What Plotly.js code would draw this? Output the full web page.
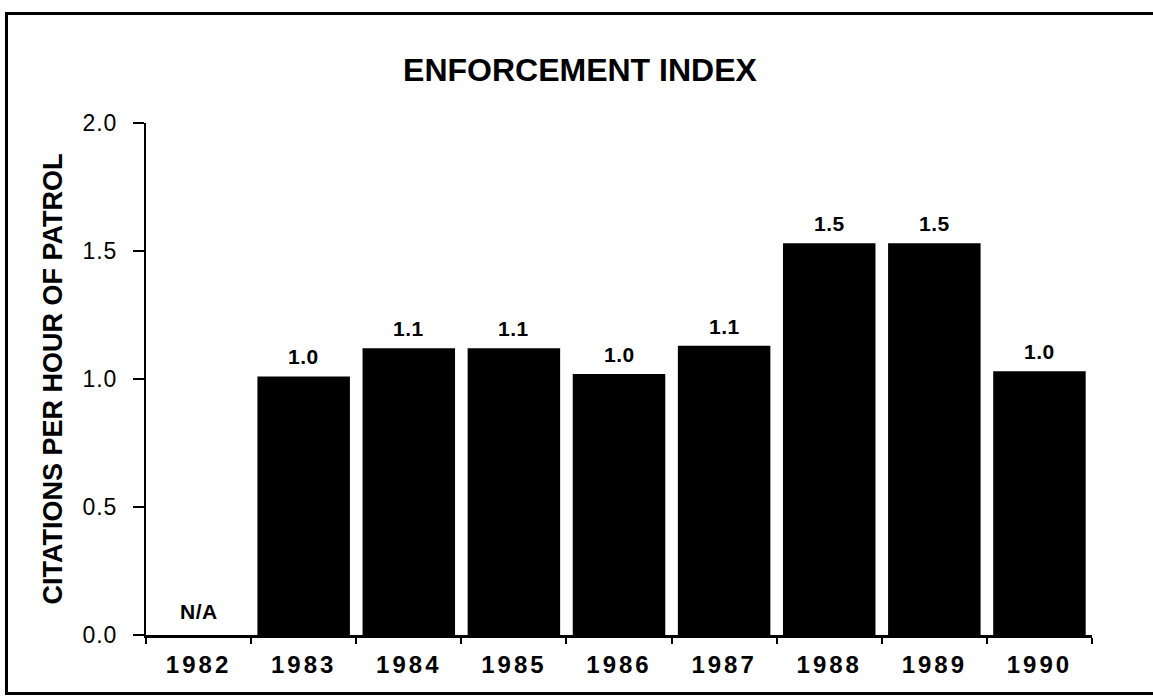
<!DOCTYPE html>
<html>
<head>
<meta charset="utf-8">
<script src="https://cdn.plot.ly/plotly-3.0.1.min.js"></script>
<style>
  html, body { margin: 0; padding: 0; background: #fff; }
  #wrap { position: relative; width: 1153px; height: 696px; overflow: hidden; }
  #chart { position: absolute; left: 0; top: 0; width: 1153px; height: 696px; }
  #frame { position: absolute; left: 5px; top: 12px; width: 1170px; height: 683px;
           border: 3px solid #000; box-sizing: border-box; pointer-events: none; }
  .xtick text { letter-spacing: 3px; }
  .ytick text { letter-spacing: 1px; }
  .annotation-text { letter-spacing: 0.5px; }
</style>
</head>
<body>
<div id="wrap">
  <div id="chart"></div>
  <div id="frame"></div>
</div>
<script>
// Data
const years = ["1982", "1983", "1984", "1985", "1986", "1987", "1988", "1989", "1990"];
const values = [null, 1.01, 1.12, 1.12, 1.02, 1.13, 1.53, 1.53, 1.03];
const valueLabels = ["N/A", "1.0", "1.1", "1.1", "1.0", "1.1", "1.5", "1.5", "1.0"];
const yTicks = [0, 0.5, 1.0, 1.5, 2.0];
const chartTitle = "ENFORCEMENT INDEX";
const yTitle = "CITATIONS PER HOUR OF PATROL";

const FONT = '"Liberation Sans", Arial, Helvetica, sans-serif';

const trace = {
  type: 'bar',
  x: years,
  y: values,
  marker: { color: '#000000', line: { width: 0 } },
  hoverinfo: 'x+y'
};

// category axis: annotation x given as category index
const annotations = years.map((yr, i) => ({
  x: i,
  y: values[i] === null ? 0 : values[i],
  xref: 'x',
  yref: 'y',
  text: valueLabels[i],
  showarrow: false,
  xanchor: 'center',
  yanchor: 'bottom',
  yshift: values[i] === null ? 10 : 6,
  font: { family: FONT, size: 21, color: '#000', weight: 'bold' }
}));

const layout = {
  width: 1153,
  height: 696,
  paper_bgcolor: '#ffffff',
  plot_bgcolor: '#ffffff',
  margin: { l: 146, r: 61, t: 123, b: 61, pad: 0 },
  showlegend: false,
  bargap: 0.12,
  title: {
    text: chartTitle,
    font: { family: FONT, size: 32, color: '#000', weight: 'bold' },
    x: 0.503, xref: 'container', xanchor: 'center',
    y: 0.899, yref: 'container', yanchor: 'middle'
  },
  xaxis: {
    type: 'category',
    categoryorder: 'array',
    categoryarray: years,
    range: [-0.5, years.length - 0.5],
    autorange: false,
    showline: true,
    linecolor: '#000',
    linewidth: 3,
    ticks: 'outside',
    tickson: 'boundaries',
    ticklen: 6,
    tickwidth: 2,
    tickcolor: '#000',
    ticklabelstandoff: 6,
    showgrid: false,
    zeroline: false,
    automargin: false,
    tickfont: { family: FONT, size: 24, color: '#000', weight: 'bold' }
  },
  yaxis: {
    range: [0, 2],
    autorange: false,
    tickvals: yTicks,
    tickformat: '.1f',
    showline: true,
    linecolor: '#000',
    linewidth: 2,
    ticks: 'outside',
    ticklen: 11,
    tickwidth: 2,
    tickcolor: '#000',
    ticklabelstandoff: 11,
    showgrid: false,
    zeroline: false,
    automargin: false,
    tickfont: { family: FONT, size: 23, color: '#000' },
    title: {
      text: yTitle,
      standoff: 12,
      font: { family: FONT, size: 27, color: '#000', weight: 'bold' }
    }
  },
  annotations: annotations
};

Plotly.newPlot('chart', [trace], layout, { displayModeBar: false, staticPlot: true });
</script>
</body>
</html>
